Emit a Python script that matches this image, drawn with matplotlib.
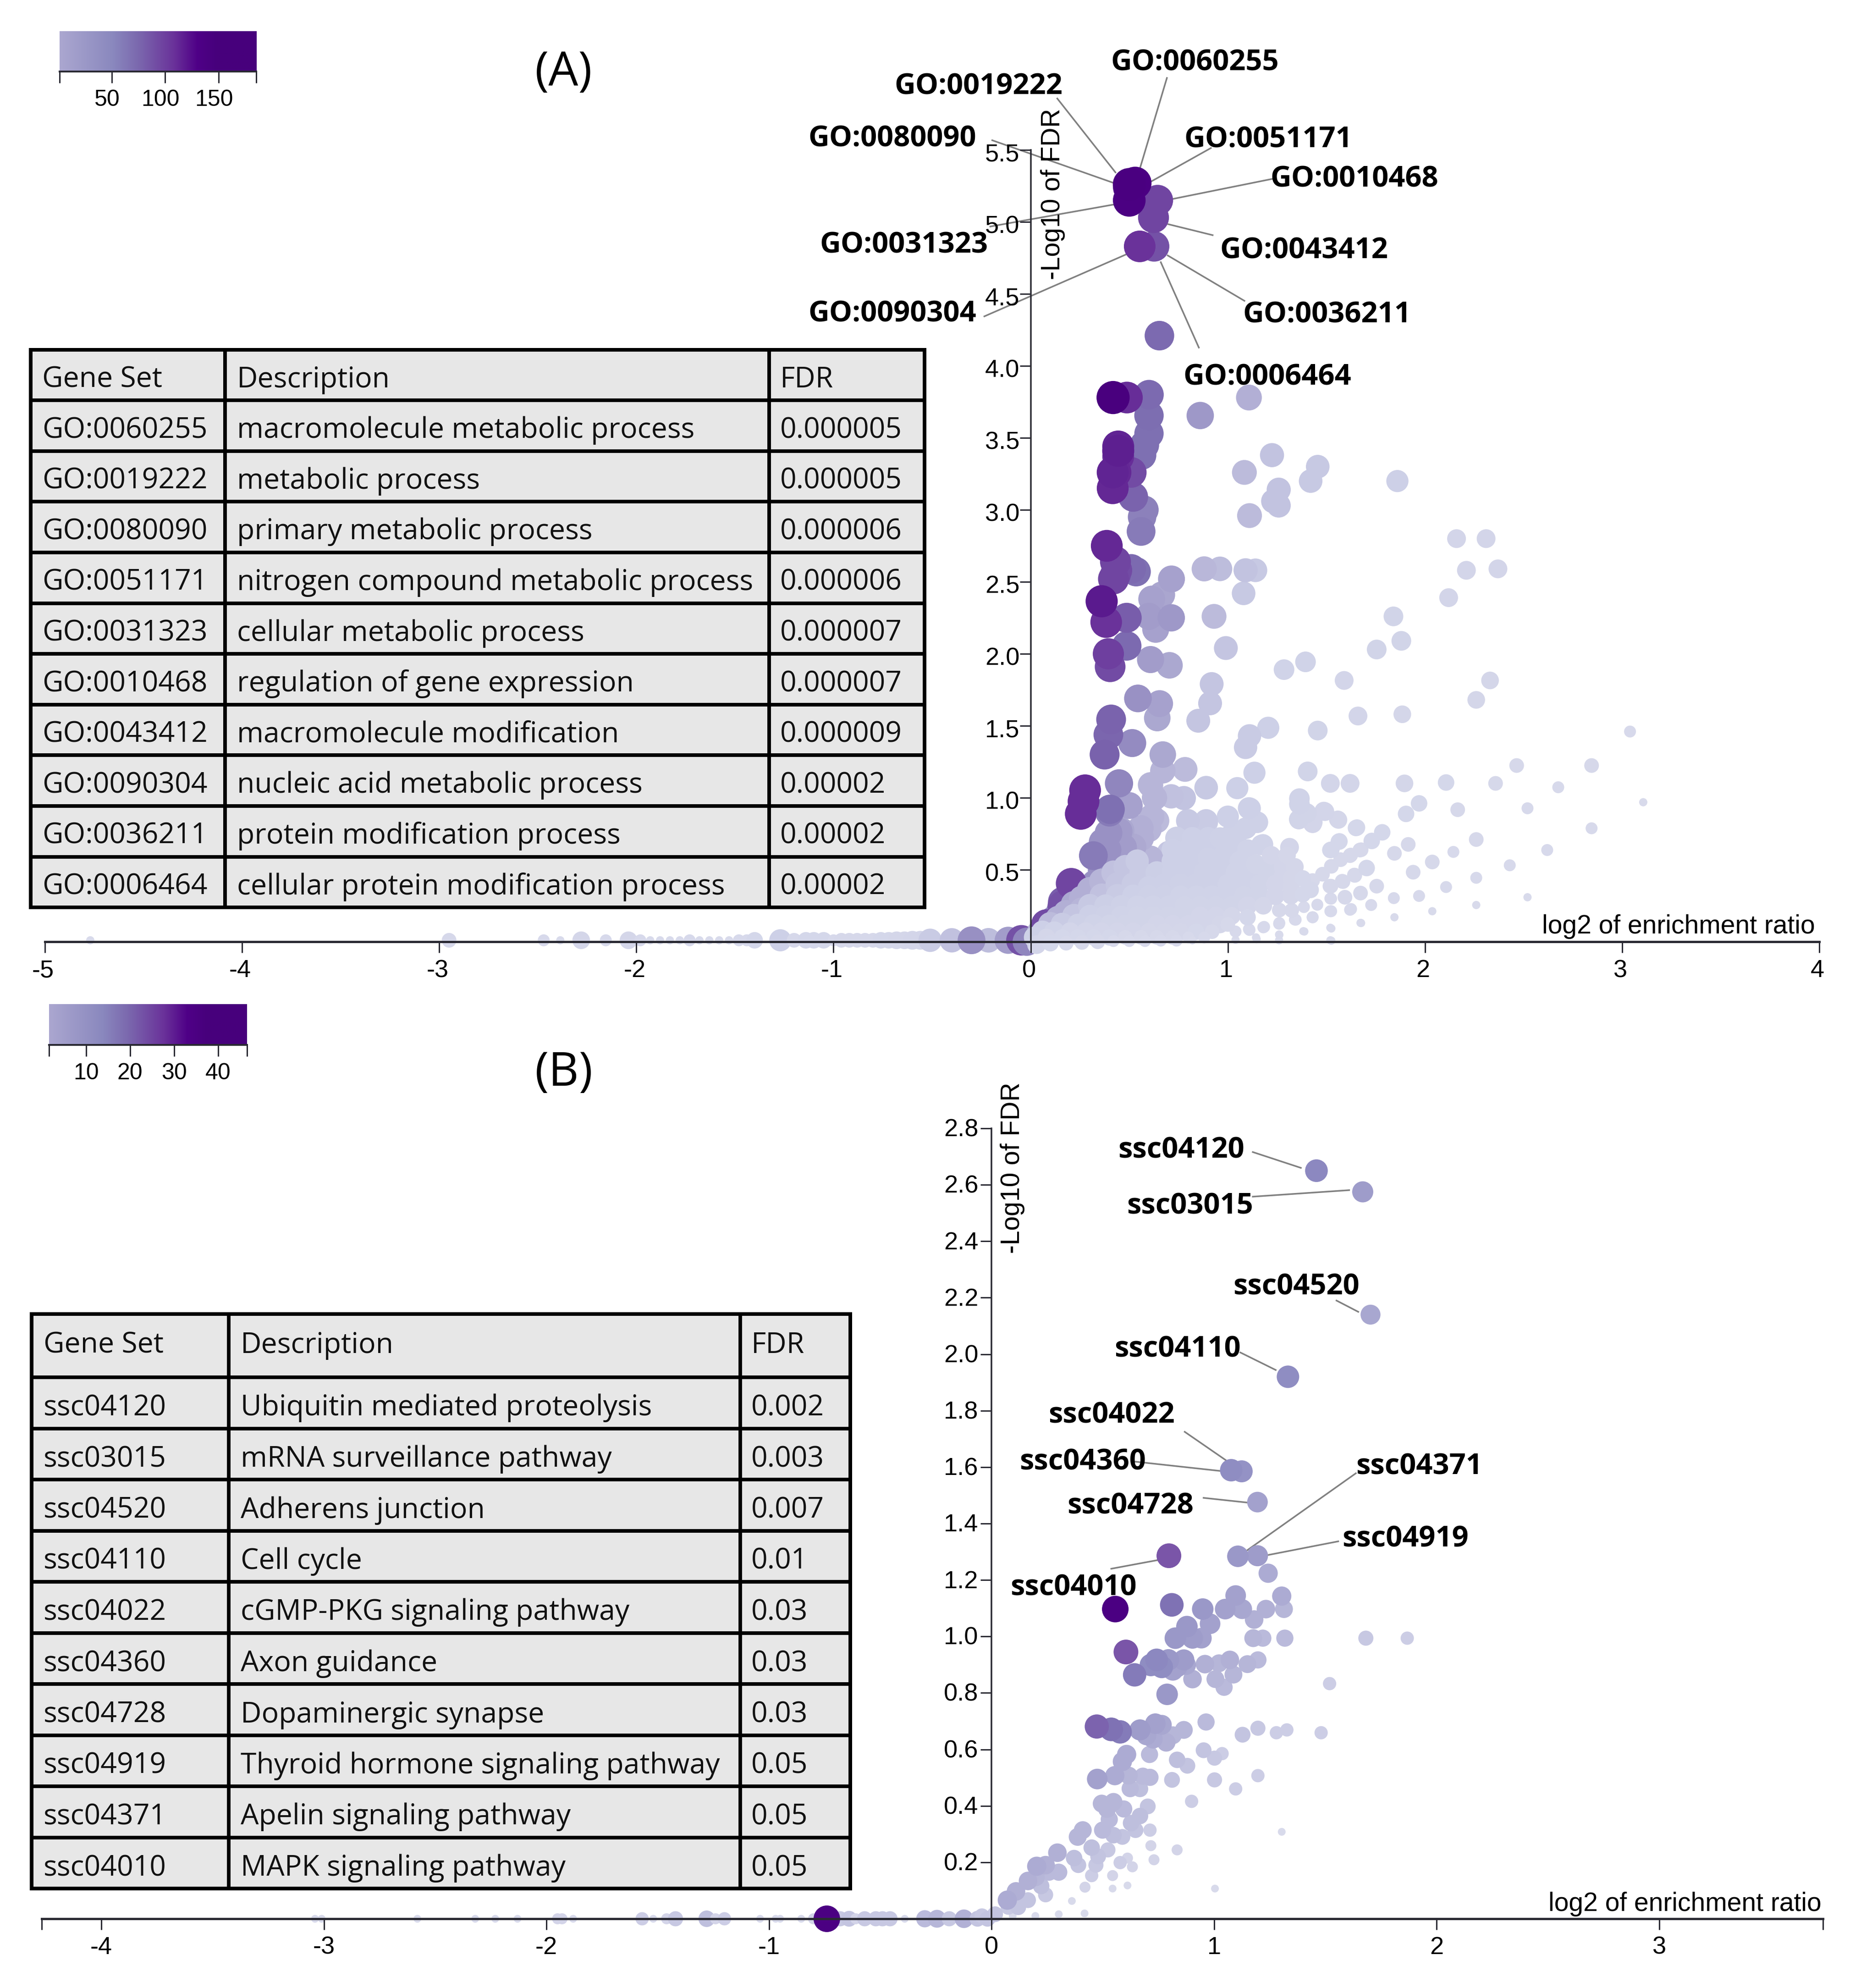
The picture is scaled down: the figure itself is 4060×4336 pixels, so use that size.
#!/usr/bin/env python3
"""GO / KEGG enrichment volcano plots with top-10 tables."""
import numpy as np
import matplotlib
matplotlib.use("Agg")
import matplotlib.pyplot as plt
from matplotlib.colors import LinearSegmentedColormap
from matplotlib.patches import Rectangle
from matplotlib.transforms import ScaledTranslation

W, H = 4060, 4336
DPI = 100
PT = 72.0 / DPI   # px -> pt

plt.rcParams['font.family'] = ['Liberation Sans', 'DejaVu Sans']
plt.rcParams['axes.unicode_minus'] = False

# ============ table (A) ============
go_ids = ['GO:0060255', 'GO:0019222', 'GO:0080090', 'GO:0051171', 'GO:0031323',
          'GO:0010468', 'GO:0043412', 'GO:0090304', 'GO:0036211', 'GO:0006464']
go_desc = ['macromolecule metabolic process', 'metabolic process', 'primary metabolic process',
           'nitrogen compound metabolic process', 'cellular metabolic process',
           'regulation of gene expression', 'macromolecule modification',
           'nucleic acid metabolic process', 'protein modification process',
           'cellular protein modification process']
go_fdr = ['0.000005', '0.000005', '0.000006', '0.000006', '0.000007',
          '0.000007', '0.000009', '0.00002', '0.00002', '0.00002']

# ============ table (B) ============
kegg_ids = ['ssc04120', 'ssc03015', 'ssc04520', 'ssc04110', 'ssc04022',
            'ssc04360', 'ssc04728', 'ssc04919', 'ssc04371', 'ssc04010']
kegg_desc = ['Ubiquitin mediated proteolysis', 'mRNA surveillance pathway', 'Adherens junction',
             'Cell cycle', 'cGMP-PKG signaling pathway', 'Axon guidance', 'Dopaminergic synapse',
             'Thyroid hormone signaling pathway', 'Apelin signaling pathway', 'MAPK signaling pathway']
kegg_fdr = ['0.002', '0.003', '0.007', '0.01', '0.03', '0.03', '0.03', '0.05', '0.05', '0.05']

# ============ GO points: (log2 ratio, -log10 FDR, overlap) ============
go_upper = [
    (.644, 5.15, 85), (.623, 5.03, 85), (.553, 4.83, 100), (.626, 4.83, 75), (.653, 4.21, 55),
    (.50, 5.26, 160), (.53, 5.27, 150), (.50, 5.24, 140), (.50, 5.15, 150),
    (.488, 3.78, 105), (.60, 3.80, 55), (.60, 3.655, 52), (.86, 3.655, 32), (1.107, 3.78, 22),
    (.60, 3.53, 50), (.577, 3.45, 50), (.563, 3.38, 50), (.444, 3.44, 115), (.444, 3.41, 120),
    (.444, 3.37, 105), (.51, 3.26, 80), (.416, 3.26, 115), (.43, 3.26, 110), (.416, 3.15, 110),
    (.418, 3.78, 170), (1.224, 3.38, 15), (1.084, 3.26, 18), (1.456, 3.30, 13), (1.42, 3.20, 13),
    (1.258, 3.14, 15), (1.23, 3.06, 15), (1.258, 3.03, 15), (1.11, 2.96, 18), (.52, 3.09, 60),
    (.577, 3.0, 42), (.565, 2.95, 42), (.56, 2.85, 45), (1.86, 3.20, 10), (.386, 2.75, 110),
    (.43, 2.64, 85), (.437, 2.58, 80), (.51, 2.59, 55), (.714, 2.52, 28), (2.16, 2.80, 6),
    (2.31, 2.80, 6),
    (.88, 2.59, 19), (.96, 2.59, 17), (1.09, 2.58, 15), (1.14, 2.58, 13), (2.21, 2.58, 6),
    (2.37, 2.59, 6), (1.08, 2.42, 13), (2.12, 2.39, 6), (1.84, 2.26, 7), (1.88, 2.09, 7),
    (1.755, 2.03, 7), (.99, 2.04, 14), (.93, 2.26, 18), (.715, 2.52, 24), (.665, 2.41, 26),
    (.614, 2.38, 28), (.535, 2.57, 50), (.43, 2.55, 80), (.42, 2.52, 85), (.36, 2.365, 125),
    (.383, 2.22, 100), (.487, 2.25, 65), (.60, 2.26, 30), (.713, 2.25, 32), (.634, 2.17, 28),
    (.487, 2.055, 55), (.394, 2.0, 90), (.403, 1.91, 80), (.608, 1.96, 30), (.704, 1.92, 25),
    (.918, 1.79, 14), (.91, 1.656, 14), (1.285, 1.89, 8), (1.394, 1.944, 8), (1.59, 1.815, 6),
    (2.33, 1.815, 5), (2.26, 1.68, 5), (.544, 1.69, 35), (.654, 1.654, 28), (.642, 1.554, 25),
    (.85, 1.535, 14), (.408, 1.544, 60), (.394, 1.438, 58), (.375, 1.30, 62), (.515, 1.38, 38),
    (.67, 1.30, 25), (1.11, 1.43, 12), (1.09, 1.35, 12), (1.205, 1.486, 10), (1.456, 1.467, 7),
    (1.66, 1.568, 6), (1.885, 1.58, 5), (3.04, 1.46, 2),
]
go_lower = [
    (2.465, 1.224, 3), (2.845, 1.224, 3), (1.405, 1.183, 7), (1.135, 1.174, 10), (.783, 1.197, 18),
    (.67, 1.187, 20), (.448, 1.10, 40), (.608, 1.09, 20), (.276, 1.052, 105), (.268, .975, 105),
    (.254, .888, 105), (.403, .92, 50), (.50, .946, 28), (.628, 1.0, 20), (.713, 1.01, 16),
    (.777, .998, 15), (.89, 1.07, 13), (1.048, 1.067, 10), (1.52, 1.10, 6), (1.62, 1.10, 6),
    (1.896, 1.10, 5), (2.107, 1.106, 4), (2.358, 1.10, 3), (2.676, 1.073, 2), (3.107, .969, 1),
    (2.52, .927, 2), (2.166, .917, 3), (1.97, .961, 4), (1.904, .888, 4), (1.363, .994, 8),
    (1.363, .956, 8), (1.107, .927, 10), (1.0, .869, 10), (.797, .84, 13), (.89, .84, 12),
    (.614, .869, 20), (.558, .79, 22), (.403, .743, 30), (.459, .772, 25), (1.15, .83, 9),
    (1.093, .79, 9), (1.36, .85, 7), (1.43, .82, 6), (1.487, .907, 6), (1.558, .85, 5),
    (1.65, .79, 4), (1.783, .76, 4), (2.845, .788, 2), (2.26, .71, 3), (1.915, .676, 3),
    (1.73, .70, 4), (1.563, .695, 4), (2.62, .637, 2), (2.144, .624, 2), (1.845, .614, 3),
    (1.52, .637, 4), (1.67, .637, 3), (1.62, .598, 3), (1.17, .672, 8), (1.313, .656, 6),
    (2.037, .554, 3), (2.43, .531, 2), (1.94, .483, 3), (1.704, .512, 4), (1.642, .463, 3),
    (2.26, .444, 2), (1.58, .42, 3), (2.107, .38, 2), (1.755, .386, 3), (1.518, .386, 3),
    (1.673, .338, 3), (1.594, .309, 3), (1.52, .30, 2), (1.842, .303, 2), (1.97, .318, 2),
    (2.52, .309, 1), (2.26, .255, 1), (2.037, .212, 1), (1.845, .17, 1), (1.727, .255, 2),
    (1.62, .222, 2), (1.52, .212, 2), (1.673, .131, 1), (1.52, .097, 1), (1.52, .01, 1),
    (1.43, .17, 2), (1.383, .073, 1), (1.34, .154, 2), (1.26, .125, 2), (1.26, .05, 1),
    (1.26, .01, 1), (1.18, .10, 2), (1.107, .087, 2), (1.143, .03, 1),
    (.206, .405, 85), (.163, .25, 75), (.08, .119, 80), (.318, .598, 45), (.39, .637, 35),
    (.47, .656, 30), (.608, .58, 20), (.70, .618, 14), (.36, .50, 35), (.327, .405, 35),
    (.206, .27, 50), (.15, .21, 40), (.50, .463, 25), (.586, .405, 20), (.39, .347, 25),
    (.40, .90, 45), (.448, .766, 30), (.395, .756, 35), (.365, .692, 35), (.389, .628, 28),
    (.46, .628, 25), (.33, .395, 28), (.365, .533, 25), (.40, .469, 22), (.508, .459, 13),
    (.59, .575, 15), (.80, .83, 12), (.893, .83, 11), (1.113, .926, 9), (1.148, .83, 9),
    (1.09, .788, 9), (1.018, .745, 9), (1.178, .676, 8), (1.40, .894, 7), (1.36, .846, 6),
    (1.433, .83, 6), (1.492, .904, 6), (1.561, .846, 5), (1.655, .793, 4), (1.566, .697, 4),
    (1.525, .639, 4), (1.676, .639, 3), (1.623, .602, 3), (1.572, .57, 3), (1.525, .524, 3),
    (1.708, .512, 3), (1.644, .461, 3), (1.48, .469, 3), (1.43, .425, 3), (1.584, .418, 3),
    (1.523, .386, 3), (1.676, .337, 2), (1.60, .305, 2), (1.524, .299, 2), (1.454, .257, 2),
    (1.524, .212, 2), (1.625, .227, 2), (1.386, .241, 2), (1.43, .17, 2), (1.344, .153, 2),
    (1.676, .13, 1), (1.388, .071, 1), (1.525, .092, 1), (1.261, .22, 3), (1.324, .218, 3),
    (1.261, .13, 2), (1.261, .047, 1), (1.184, .103, 2), (1.11, .082, 2), (1.146, .018, 1),
    (1.039, .071, 2), (1.039, .013, 1), (1.525, .007, 1),
    (.164, .278, 65), (.211, .267, 45), (.158, .204, 45), (.116, .15, 40), (.247, .214, 22),
    (.294, .236, 18), (.342, .289, 16), (.365, .331, 16), (.294, .32, 22), (.413, .278, 13),
    (.187, .15, 20), (.128, .119, 18), (.045, .066, 20),
    (.52, .66, 24), (.56, .72, 22), (.60, .78, 20), (.64, .84, 18),
]
go_cloud = [
    (.74, .72, 11), (.82, .72, 10), (.90, .72, 10), (.96, .72, 9), (1.04, .72, 9),
    (.72, .64, 10), (.80, .64, 10), (.86, .64, 10), (.92, .64, 10), (1.00, .64, 9), (1.06, .64, 9),
    (1.10, .64, 8), (1.22, .60, 6), (1.30, .60, 5),
    (.72, .56, 10), (.80, .56, 10), (.90, .58, 9), (.98, .60, 9), (1.06, .56, 8), (1.14, .54, 7),
    (1.20, .52, 7), (1.28, .52, 6), (1.34, .52, 5),
    (.56, .48, 12), (.64, .48, 11), (.72, .48, 10), (.80, .48, 10), (.88, .48, 9), (.96, .50, 9),
    (1.04, .48, 8), (1.12, .48, 8), (1.20, .46, 7), (1.28, .46, 6), (1.32, .44, 5), (1.38, .44, 4),
    (.44, .40, 14), (.52, .40, 12), (.60, .38, 10), (.68, .40, 10), (.76, .40, 9), (.84, .40, 9),
    (.92, .40, 9), (1.00, .40, 8), (1.08, .40, 8), (1.16, .40, 7), (1.24, .40, 6), (1.32, .38, 5),
    (1.42, .36, 4),
    (.36, .32, 16), (.44, .32, 12), (.52, .32, 10), (.60, .32, 9), (.68, .32, 9), (.76, .32, 8),
    (.84, .32, 8), (.92, .32, 8), (1.00, .32, 8), (1.08, .32, 7), (1.16, .32, 7), (1.24, .32, 6),
    (1.32, .32, 5), (1.38, .33, 4),
    (.30, .25, 13), (.38, .25, 11), (.46, .25, 9), (.54, .25, 8), (.62, .25, 8), (.70, .25, 8),
    (.78, .25, 7), (.86, .25, 7), (.94, .25, 7), (1.02, .25, 7), (1.10, .25, 6), (1.18, .25, 5),
    (.22, .18, 14), (.30, .18, 10), (.38, .18, 9), (.46, .18, 8), (.54, .18, 7), (.62, .18, 7),
    (.70, .18, 7), (.78, .18, 7), (.86, .18, 6), (.94, .18, 6), (1.02, .18, 5), (1.10, .17, 4),
    (.16, .12, 12), (.24, .12, 9), (.32, .12, 8), (.40, .12, 7), (.48, .12, 7), (.56, .12, 7),
    (.64, .12, 6), (.72, .12, 6), (.80, .12, 6), (.88, .12, 6), (.96, .12, 5), (1.00, .12, 3),
    (.06, .07, 10), (.12, .07, 8), (.20, .07, 6), (.28, .07, 6), (.36, .07, 6), (.44, .07, 6),
    (.52, .07, 6), (.60, .07, 5), (.68, .07, 5), (.76, .07, 5), (.84, .07, 4), (.92, .07, 3),
    (.02, .03, 9), (.08, .03, 5), (.16, .03, 4), (.24, .03, 4), (.32, .03, 4), (.40, .03, 4),
    (.48, .03, 3), (.56, .03, 3), (.64, .03, 3), (.72, .03, 3), (.80, .03, 2), (.88, .03, 2),
    (.03, -.02, 6), (.10, -.01, 4), (.18, -.01, 3), (.26, -.005, 3), (.34, 0, 3), (.42, .005, 2),
    (.50, .005, 2), (.58, .005, 2), (.66, .008, 2), (.74, .008, 2), (.82, .01, 1),
    (.22, .26, 25), (.26, .22, 20), (.18, .20, 22), (.14, .16, 22), (.10, .12, 18), (.26, .30, 22),
    (.30, .36, 22), (.36, .42, 20), (.42, .48, 16), (.48, .52, 14), (.54, .56, 12),
]
go_negative = [
    (-4.77, .01, 1), (-2.95, .01, 3), (-2.47, .01, 2), (-2.386, .01, 1), (-2.28, .01, 5),
    (-2.155, .01, 2), (-2.04, .01, 5), (-1.98, .01, 2), (-1.93, .01, 1), (-1.88, .01, 1),
    (-1.83, .01, 1), (-1.78, .01, 1), (-1.73, .01, 2), (-1.68, .01, 1), (-1.63, .01, 1),
    (-1.58, .01, 1), (-1.53, .01, 1), (-1.48, .01, 2), (-1.44, .01, 2), (-1.40, .01, 4),
    (-1.27, .01, 10), (-1.20, .01, 3), (-1.14, .01, 4), (-1.10, .01, 4), (-1.05, .01, 4),
    (-1.00, .01, 2), (-.96, .01, 3), (-.92, .01, 3), (-.88, .01, 3), (-.84, .01, 3),
    (-.80, .01, 3), (-.76, .01, 4), (-.72, .01, 4), (-.68, .01, 5), (-.64, .01, 5),
    (-.60, .01, 6), (-.56, .01, 6), (-.51, .01, 12), (-.40, .01, 16), (-.214, .01, 17),
    (-.30, .01, 36), (-.114, .01, 30), (-.047, .01, 75), (-.02, 0, 40),
]

# ============ KEGG points: (log2 ratio, -log10 FDR, overlap) ============
kegg_points = [
    (1.46, 2.65, 17), (1.668, 2.575, 13), (1.703, 2.14, 11), (1.332, 1.92, 16), (1.077, 1.589, 16),
    (1.124, 1.585, 15), (1.195, 1.476, 12), (.797, 1.286, 30), (1.107, 1.284, 14), (1.195, 1.286, 13),
    (1.243, 1.224, 10), (.556, 1.097, 46), (.81, 1.112, 22), (1.097, 1.145, 12), (1.304, 1.143, 10),
    (.949, 1.097, 14), (1.05, 1.097, 12), (1.126, 1.097, 11), (1.233, 1.097, 9), (1.314, 1.097, 8),
    (1.18, 1.06, 9), (.982, 1.045, 12), (.878, 1.035, 14), (.826, .994, 14), (.903, .994, 13),
    (.943, .994, 12), (1.176, .994, 8), (1.219, .994, 7), (1.318, .994, 7), (1.682, .994, 4),
    (1.868, .994, 3), (.604, .945, 30), (.643, .864, 20), (.742, .917, 17), (.716, .899, 16),
    (.765, .892, 16), (.795, .917, 14), (.864, .917, 13), (.834, .892, 12), (.874, .899, 11),
    (.815, .88, 12), (.959, .902, 9), (1.022, .905, 8), (1.071, .917, 9), (1.15, .902, 8),
    (1.197, .917, 7), (1.087, .865, 8), (.903, .849, 9), (1.006, .849, 8), (1.045, .82, 7),
    (.789, .795, 14), (1.519, .833, 3), (.473, .681, 26), (.538, .671, 22), (.578, .662, 20),
    (.667, .669, 13), (.736, .691, 12), (.765, .687, 11), (.696, .65, 11), (.726, .637, 10),
    (.785, .625, 9), (.815, .65, 8), (.864, .669, 8), (.964, .697, 7), (1.128, .652, 5),
    (1.197, .675, 4), (1.28, .659, 3), (1.327, .669, 3), (1.481, .659, 3), (.607, .582, 10),
    (.588, .557, 10), (.71, .582, 7), (.834, .563, 6), (.88, .542, 5), (.953, .597, 5),
    (1.002, .569, 4), (1.036, .585, 3), (.475, .495, 12), (.554, .507, 10), (.617, .507, 8),
    (.68, .505, 7), (.712, .501, 7), (.623, .461, 7), (.667, .46, 6), (.811, .492, 5),
    (1.002, .492, 4), (1.197, .507, 3), (1.097, .46, 3), (.899, .416, 3), (.495, .408, 8),
    (.548, .414, 8), (.519, .389, 8), (.594, .389, 7), (.702, .398, 5), (.667, .364, 6),
    (.529, .352, 7), (.627, .339, 6), (.499, .314, 7), (.548, .296, 6), (.588, .29, 5),
    (.647, .314, 5), (.712, .314, 3), (1.304, .308, 1), (.41, .314, 8), (.387, .29, 8),
    (.296, .234, 9), (.45, .252, 6), (.523, .244, 4), (.371, .215, 6), (.39, .19, 5),
    (.469, .19, 4), (.479, .221, 5), (.716, .259, 2), (.834, .244, 2), (.73, .209, 2),
    (.611, .215, 2), (.578, .199, 3), (.633, .184, 2), (.203, .186, 10), (.243, .19, 9),
    (.302, .165, 7), (.258, .165, 7), (.164, .134, 9), (.199, .147, 8), (.223, .116, 6),
    (.243, .085, 4), (.45, .153, 3), (.544, .153, 2), (.42, .112, 2), (.544, .107, 1),
    (.611, .118, 1), (1.004, .107, 1), (.361, .063, 1), (.418, .019, 1), (.302, .016, 1),
    (.197, .01, 1), (.095, .01, 1), (.11, .097, 9), (.071, .066, 10), (.12, .041, 5),
    (.075, .041, 4), (.164, .066, 5), (.016, .016, 5),
]
kegg_negative = [
    (-3.04, 0, 1), (-3.01, 0, 1), (-2.58, 0, 1), (-2.32, 0, 1), (-2.23, 0, 1), (-2.13, 0, 1),
    (-1.95, 0, 2), (-1.93, 0, 2), (-1.88, 0, 1), (-1.57, 0, 3), (-1.52, 0, 1), (-1.46, 0, 2),
    (-1.42, 0, 4), (-1.28, 0, 6), (-1.24, 0, 2), (-1.20, 0, 3), (-1.04, 0, 1), (-.97, 0, 1),
    (-.95, 0, 1), (-.855, 0, 1), (-.80, 0, 2), (-.68, 0, 4), (-.64, 0, 5), (-.61, 0, 2),
    (-.57, 0, 4), (-.52, 0, 4), (-.49, 0, 4), (-.456, 0, 4), (-.39, 0, 1), (-.30, 0, 7),
    (-.245, 0, 8), (-.19, 0, 4), (-.124, 0, 9), (-.063, 0, 5), (-.043, .01, 4), (-.018, 0, 5),
    (-.74, 0, 46),
]

# ============ colour / size scales ============
go_n_stops = [1, 10, 25, 50, 100, 125, 150, 185]
go_n_colors = ['#D8DAEB', '#CDD0E7', '#ABA7D0', '#7E70B2', '#6A329A', '#5A1A8E', '#4B0082', '#47007C']
go_d_n = [1, 2, 3, 4, 6, 9, 12, 25, 50, 100, 185]
go_d_px = [18, 26, 32, 36, 41, 47, 51, 58, 64, 69, 73]

kegg_n_stops = [1, 3, 8, 12, 16, 22, 30, 46]
kegg_n_colors = ['#D8DAEB', '#CCCDE5', '#B5B5D8', '#A3A1CD', '#8F8DC2', '#7F72B4', '#7A55A8', '#4B0082']
kegg_d_n = [1, 2, 3, 4, 6, 8, 12, 16, 20, 30, 46]
kegg_d_px = [17, 24, 29, 33, 36, 39, 45, 49, 51, 54, 58]

bar_stops = [0.0, 0.27, 0.40, 0.58, 0.70, 0.80, 1.0]
bar_colors = ['#ABA7D0', '#8A88BE', '#7B68AE', '#6A329A', '#4F0087', '#47007C', '#47007C']


def make_cmap(stops, colors):
    lo, hi = stops[0], stops[-1]
    pos = [(s - lo) / (hi - lo) for s in stops]
    return LinearSegmentedColormap.from_list('c', list(zip(pos, colors)))


def axes_px(fig, x0, y_top, x1, y_bottom, **kw):
    """add_axes using pixel box, y measured from the top."""
    return fig.add_axes([x0 / W, 1 - y_bottom / H, (x1 - x0) / W, (y_bottom - y_top) / H], **kw)


def shift_labels(labs, fig, dx_px=0, dy_px=0):
    """nudge tick labels by image pixels (dy positive = down)."""
    off = ScaledTranslation(dx_px / DPI, -dy_px / DPI, fig.dpi_scale_trans)
    for t in labs:
        t.set_transform(t.get_transform() + off)


def dots(ax, pts, cmap, stops, d_n, d_px, sort=None):
    pts = np.array(pts, dtype=float)
    if sort == 'up':
        pts = pts[np.argsort(pts[:, 2], kind='stable')]
    elif sort == 'down':
        pts = pts[np.argsort(-pts[:, 2], kind='stable')]
    d = np.interp(pts[:, 2], d_n, d_px) * PT
    ax.scatter(pts[:, 0], pts[:, 1], s=d ** 2, c=pts[:, 2], cmap=cmap,
               vmin=stops[0], vmax=stops[-1], linewidths=0, clip_on=False, zorder=1)


def style_axes(ax, xticks, yticks, yfmt):
    for s in ['top', 'right']:
        ax.spines[s].set_visible(False)
    ax.spines['left'].set_position(('data', 0))
    ax.spines['bottom'].set_position(('data', 0))
    ax.spines['left'].set_linewidth(3.5 * PT)
    ax.spines['bottom'].set_linewidth(5 * PT)
    ax.spines['left'].set_color('#2A2A33')
    ax.spines['bottom'].set_color('#2A2A33')
    ax.patch.set_alpha(0)
    ax.set_xticks(xticks)
    ax.set_xticklabels([('' if t != int(t) else str(int(t))) for t in xticks])
    ax.set_yticks(yticks)
    ax.set_yticklabels([yfmt % t for t in yticks])
    ax.tick_params(axis='x', length=24 * PT, width=3 * PT, color='#2A2A33', labelsize=39, pad=14 * PT)
    ax.tick_params(axis='y', length=24 * PT, width=3 * PT, color='#2A2A33', labelsize=39, pad=0)


def colorbar(fig, box, vmin, vmax, ticks, label_dx=0):
    ax = axes_px(fig, *box)
    grad = np.linspace(0, 1, 256).reshape(1, -1)
    ax.imshow(grad, extent=[vmin, vmax, 0, 1], aspect='auto', cmap=make_cmap(bar_stops, bar_colors))
    for s in ['top', 'left', 'right']:
        ax.spines[s].set_visible(False)
    ax.spines['bottom'].set_linewidth(4 * PT)
    ax.spines['bottom'].set_color('#2A2A33')
    ax.set_yticks([])
    ax.set_xticks([vmin] + ticks + [vmax])
    ax.set_xticklabels([''] + [str(t) for t in ticks] + [''])
    ax.tick_params(axis='x', length=25 * PT, width=3 * PT, color='#2A2A33', labelsize=36, pad=14 * PT)
    if label_dx:
        shift_labels(ax.get_xticklabels(), fig, dx_px=label_dx)


def draw_table(ov, xs, ys, header, ids, desc, fdr, pad, fs, lw, row_dy, head_dy):
    ov.add_patch(Rectangle((xs[0], ys[0]), xs[-1] - xs[0], ys[-1] - ys[0], fc='#E7E7E7', ec='none', zorder=1))
    for x in xs:
        ov.plot([x, x], [ys[0], ys[-1]], color='k', lw=lw * PT, solid_capstyle='projecting', zorder=2)
    for y in ys:
        ov.plot([xs[0], xs[-1]], [y, y], color='k', lw=lw * PT, solid_capstyle='projecting', zorder=2)
    rows = [header] + [list(r) for r in zip(ids, desc, fdr)]
    for r, row in enumerate(rows):
        yc = (ys[r] + ys[r + 1]) / 2 + (head_dy if r == 0 else row_dy)
        for c, txt in enumerate(row):
            ov.text(xs[c] + pad[c], yc, txt, fontsize=fs, family=['Open Sans', 'DejaVu Sans'],
                    ha='left', va='center_baseline', color='#111111', zorder=3)


def labels(ov, items, fs=45.5):
    for name, px, py in items:
        ov.text(px, py, name, fontsize=fs, family=['Open Sans', 'DejaVu Sans'], fontweight='bold',
                ha='center', va='center_baseline', color='k', zorder=6)


# ============ label layout: name, centre in px ============
go_label_pos = [
    ('GO:0060255', 2607, 130), ('GO:0019222', 2135, 182), ('GO:0080090', 1947, 296),
    ('GO:0051171', 2767, 298), ('GO:0010468', 2955, 384), ('GO:0031323', 1972, 528),
    ('GO:0043412', 2845, 539), ('GO:0090304', 1947, 677), ('GO:0036211', 2895, 679),
    ('GO:0006464', 2765, 815),
]
kegg_label_pos = [
    ('ssc04120', 2577, 2502), ('ssc03015', 2596, 2623), ('ssc04520', 2828, 2800),
    ('ssc04110', 2569, 2935), ('ssc04022', 2425, 3079), ('ssc04360', 2362, 3181),
    ('ssc04728', 2466, 3277), ('ssc04371', 3096, 3192), ('ssc04919', 3066, 3350),
    ('ssc04010', 2342, 3456),
]
# leaders in data coordinates: (x0, y0, x1, y1)
go_leaders = [
    (.691, 6.0, .556, 5.38), (.135, 5.857, .43, 5.344), (-.195, 5.567, .414, 5.274),
    (.914, 5.513, .614, 5.283), (1.23, 5.3, .719, 5.159), (-.205, 4.968, .423, 5.121),
    (.923, 4.908, .698, 4.984), (-.235, 4.344, .484, 4.774), (1.084, 4.452, .695, 4.767),
    (.853, 4.127, .66, 4.72),
]
kegg_leaders = [
    (1.174, 2.716, 1.39, 2.66), (1.174, 2.558, 1.607, 2.581), (1.55, 2.19, 1.648, 2.15),
    (1.118, 2.006, 1.277, 1.944), (.868, 1.725, 1.061, 1.62), (.637, 1.62, 1.032, 1.586),
    (.953, 1.491, 1.154, 1.474), (1.637, 1.578, 1.15, 1.306), (1.558, 1.337, 1.239, 1.288),
    (.538, 1.24, .75, 1.271),
]


def leaders(ax, segs):
    for x0, y0, x1, y1 in segs:
        ax.plot([x0, x1], [y0, y1], color='#808080', lw=3.5 * PT, clip_on=False, zorder=0.5)


def main():
    fig = plt.figure(figsize=(W / DPI, H / DPI), dpi=DPI, facecolor='white')

    # overlay in image pixels for tables and free text
    ov = fig.add_axes([0, 0, 1, 1], zorder=5)
    ov.set_xlim(0, W)
    ov.set_ylim(H, 0)
    ov.axis('off')

    # ----- panel A -----
    ax_a = axes_px(fig, 98, 327, 3969, 2054)
    ax_a.set_xlim(-5, 4)
    ax_a.set_ylim(0, 5.5)
    go_cmap = make_cmap(go_n_stops, go_n_colors)
    leaders(ax_a, go_leaders)
    dots(ax_a, go_negative, go_cmap, go_n_stops, go_d_n, go_d_px)
    dots(ax_a, go_upper + go_lower, go_cmap, go_n_stops, go_d_n, go_d_px, sort='up')
    dots(ax_a, go_cloud, go_cmap, go_n_stops, go_d_n, go_d_px, sort='down')
    style_axes(ax_a, list(range(-5, 5)), [.5, 1, 1.5, 2, 2.5, 3, 3.5, 4, 4.5, 5, 5.5], '%.1f')
    shift_labels(ax_a.get_yticklabels(), fig, dy_px=5)
    shift_labels(ax_a.get_xticklabels(), fig, dx_px=-4)

    # ----- panel B -----
    ax_b = axes_px(fig, 91, 2461, 3977, 4185)
    ax_b.set_xlim(-4.268, 3.736)
    ax_b.set_ylim(0, 2.8)
    kegg_cmap = make_cmap(kegg_n_stops, kegg_n_colors)
    leaders(ax_b, kegg_leaders)
    dots(ax_b, kegg_negative, kegg_cmap, kegg_n_stops, kegg_d_n, kegg_d_px)
    dots(ax_b, kegg_points, kegg_cmap, kegg_n_stops, kegg_d_n, kegg_d_px, sort='up')
    style_axes(ax_b, [-4.268, -4, -3, -2, -1, 0, 1, 2, 3, 3.736],
               [.2, .4, .6, .8, 1, 1.2, 1.4, 1.6, 1.8, 2, 2.2, 2.4, 2.6, 2.8], '%.1f')
    shift_labels(ax_b.get_yticklabels(), fig, dx_px=-5, dy_px=-2)

    colorbar(fig, (129.5, 68, 558.7, 156), 1, 185, [50, 100, 150], label_dx=-10)
    colorbar(fig, (107, 2190, 539, 2279), 1.6, 46.6, [10, 20, 30, 40])

    # ----- tables -----
    header = ['Gene Set', 'Description', 'FDR']
    ys_a = [762.5 + 110.6 * i for i in range(12)]
    draw_table(ov, [67, 491, 1678, 2017], ys_a, header, go_ids, go_desc, go_fdr, (25, 26, 24), 45, 8, 3, 3)
    ys_b = [2866, 3004] + [3004 + 111.5 * i for i in range(1, 11)]
    draw_table(ov, [69, 499, 1615, 1855], ys_b, header, kegg_ids, kegg_desc, kegg_fdr, (26, 26, 24), 45, 8, 4, -8)

    # ----- free text -----
    arial = ['Liberation Sans', 'DejaVu Sans']
    ov.text(3960, 2036, 'log2 of enrichment ratio', fontsize=41, family=arial, ha='right', va='baseline')
    ov.text(3974, 4168, 'log2 of enrichment ratio', fontsize=41, family=arial, ha='right', va='baseline')
    ov.text(2297, 610, '-Log10 of FDR', fontsize=41, family=arial, rotation=90, ha='center', va='bottom')
    ov.text(2209, 2734, '-Log10 of FDR', fontsize=41, family=arial, rotation=90, ha='center', va='bottom')
    ov.text(1230, 160, '(A)', fontsize=74, family=['Open Sans', 'DejaVu Sans'], ha='center', va='center')
    ov.text(1230, 2342, '(B)', fontsize=74, family=['Open Sans', 'DejaVu Sans'], ha='center', va='center')
    labels(ov, go_label_pos)
    labels(ov, kegg_label_pos)

    fig.savefig('out.png', dpi=DPI, facecolor='white')


if __name__ == '__main__':
    main()
